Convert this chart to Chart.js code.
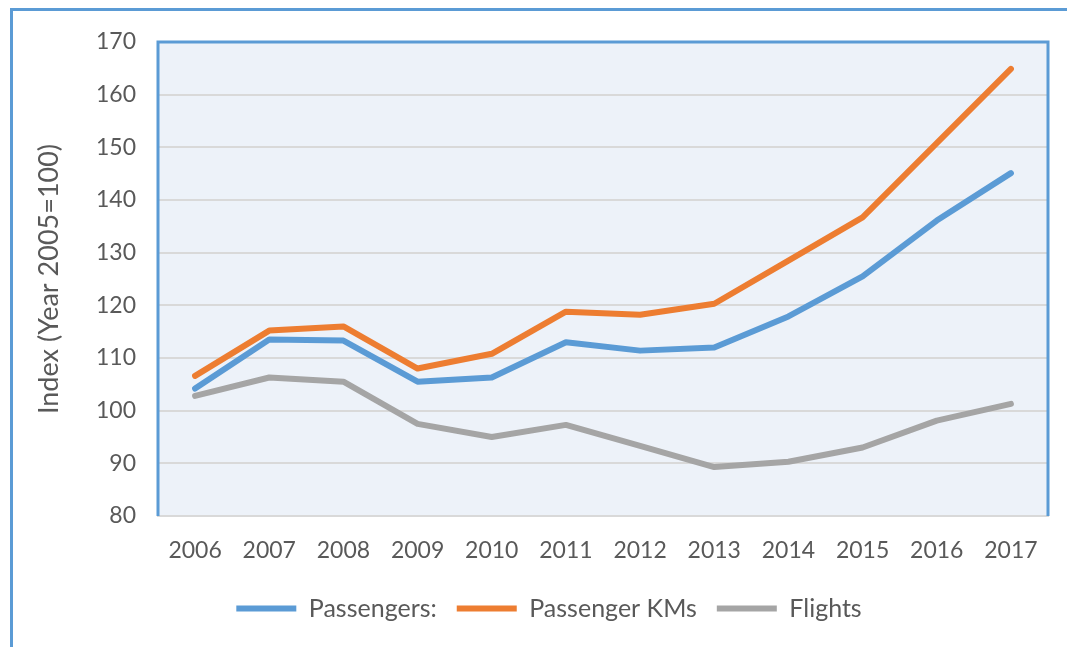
<!DOCTYPE html>
<html>
<head>
<meta charset="utf-8">
<script src="https://cdn.jsdelivr.net/npm/chart.js@4"></script>
<style>
  html, body { margin: 0; padding: 0; background: #ffffff; }
  #wrap { position: relative; width: 1067px; height: 647px; overflow: hidden; }
  #frame { position: absolute; left: 10px; top: 8px; width: 1200px; height: 800px;
           border-left: 3px solid #5B9BD5; border-top: 3px solid #5B9BD5; box-sizing: border-box; }
  canvas { position: absolute; left: 0; top: 0; }
</style>
</head>
<body>
<div id="wrap">
  <div id="frame"></div>
  <canvas id="c" width="1067" height="647"></canvas>
</div>
<script>
const years = ['2006','2007','2008','2009','2010','2011','2012','2013','2014','2015','2016','2017'];
const passengers = [104.2, 113.5, 113.3, 105.5, 106.3, 113.0, 111.4, 112.0, 117.9, 125.5, 136.1, 145.1];
const passengerKMs = [106.6, 115.2, 116.0, 108.0, 110.8, 118.8, 118.2, 120.3, 128.5, 136.7, 150.8, 164.9];
const flights = [102.8, 106.3, 105.5, 97.5, 95.0, 97.3, 93.3, 89.3, 90.3, 93.0, 98.1, 101.3];
const seriesNames = ['Passengers:', 'Passenger KMs', 'Flights'];
const yTitle = 'Index (Year 2005=100)';

const FONT = 'Lato, "Open Sans", sans-serif';
const TXT = '#595959';

const plotFrame = {
  id: 'plotFrame',
  afterLayout(chart) {
    if (chart.legend) { chart.legend.left += 25; chart.legend.right += 25; }
  },
  beforeDraw(chart) {
    const a = chart.chartArea, ctx = chart.ctx;
    ctx.save();
    ctx.fillStyle = '#EDF2F9';
    ctx.fillRect(a.left, a.top, a.right - a.left, a.bottom - a.top);
    ctx.restore();
  },
  afterDatasetsDraw(chart) {
    const a = chart.chartArea, ctx = chart.ctx;
    ctx.save();
    ctx.strokeStyle = '#5B9BD5';
    ctx.lineWidth = 3;
    ctx.beginPath();
    ctx.moveTo(a.left, a.bottom);
    ctx.lineTo(a.left, a.top);
    ctx.lineTo(a.right, a.top);
    ctx.lineTo(a.right, a.bottom);
    ctx.stroke();
    ctx.restore();
  }
};

const mk = (label, data, color) => ({
  label, data,
  borderColor: color, backgroundColor: color,
  borderWidth: 6, borderCapStyle: 'round', borderJoinStyle: 'round',
  pointRadius: 0, pointHoverRadius: 0, tension: 0, fill: false,
  pointStyle: 'line'
});

new Chart(document.getElementById('c'), {
  type: 'line',
  data: {
    labels: years,
    datasets: [
      mk(seriesNames[0], passengers, '#5B9BD5'),
      mk(seriesNames[1], passengerKMs, '#ED7D31'),
      mk(seriesNames[2], flights, '#A5A5A5')
    ]
  },
  options: {
    responsive: false,
    animation: false,
    events: [],
    layout: { padding: { top: 42, right: 19, left: 0, bottom: 16 } },
    scales: {
      x: {
        offset: true,
        grid: { display: false, drawTicks: false },
        border: { display: true, color: '#D9D9D9', width: 2 },
        ticks: { color: TXT, font: { family: FONT, size: 23 }, padding: 21, maxRotation: 0 },
        afterFit(s) { s.height = 60; }
      },
      y: {
        min: 80, max: 170,
        ticks: { stepSize: 10, color: TXT, font: { family: FONT, size: 23 }, padding: 22 },
        grid: { color: '#D9D9D9', lineWidth: 2, drawTicks: false },
        border: { display: false },
        title: { display: true, text: yTitle, color: TXT, font: { family: FONT, size: 27 }, padding: { top: 33, bottom: 0 } },
        afterFit(s) { s.width = 158; }
      }
    },
    plugins: {
      legend: {
        position: 'bottom',
        labels: {
          usePointStyle: true,
          pointStyleWidth: 60,
          boxHeight: 6,
          color: TXT,
          font: { family: FONT, size: 25 },
          padding: 20
        }
      },
      tooltip: { enabled: false }
    }
  },
  plugins: [plotFrame]
});
</script>
</body>
</html>
